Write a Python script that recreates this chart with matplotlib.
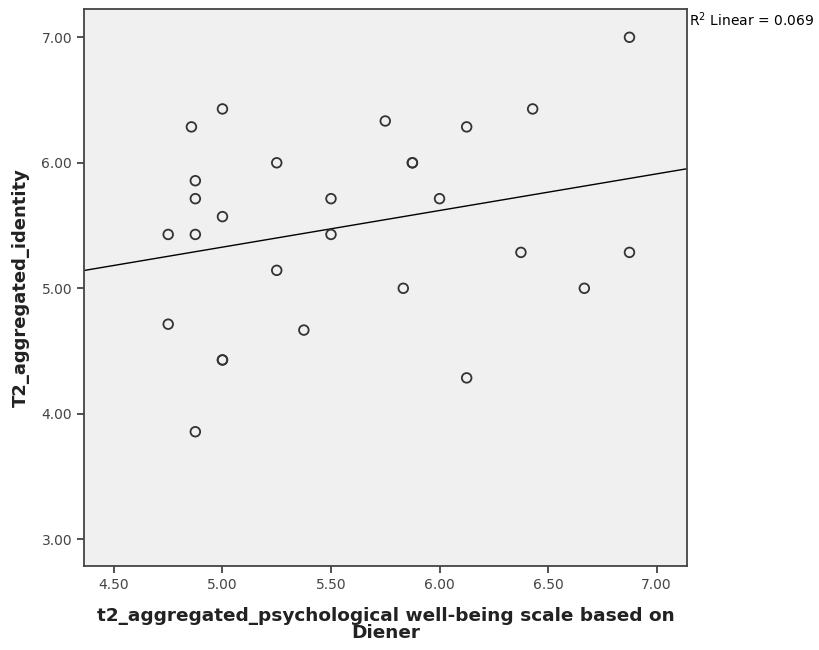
import numpy as np
import matplotlib
matplotlib.use("Agg")
import matplotlib.pyplot as plt

# Well-being (x) vs identity (y)
well_being = [5.00, 4.857, 5.25, 5.75, 5.875, 5.875, 4.875, 4.875, 5.50, 6.00,
              5.00, 4.75, 4.875, 5.50, 5.25, 5.833, 6.875, 6.429, 6.125, 6.375,
              6.875, 6.667, 4.75, 5.375, 5.00, 5.00, 6.125, 4.875]
identity = [6.429, 6.286, 6.00, 6.333, 6.00, 6.00, 5.857, 5.714, 5.714, 5.714,
            5.571, 5.429, 5.429, 5.429, 5.143, 5.00, 7.00, 6.429, 6.286, 5.286,
            5.286, 5.00, 4.714, 4.667, 4.429, 4.429, 4.286, 3.857]

x_ticks = [4.50, 5.00, 5.50, 6.00, 6.50, 7.00]
y_ticks = [3.00, 4.00, 5.00, 6.00, 7.00]
r2_text = "R$^2$ Linear = 0.069"

fig = plt.figure(figsize=(8.2, 6.5), dpi=100)
ax = fig.add_axes([0.1024, 0.1292, 0.7354, 0.8565])
ax.set_facecolor("#f0f0f0")

ax.scatter(well_being, identity, s=48, facecolors="none", edgecolors="#333333",
           linewidths=1.3, zorder=3)

xlim = (4.362, 7.14)
ylim = (2.787, 7.223)

# regression line across the whole plot
slope, intercept = np.polyfit(well_being, identity, 1)
xs = np.array(xlim)
ax.plot(xs, slope * xs + intercept, color="black", lw=1.0, zorder=2)

ax.set_xlim(*xlim)
ax.set_ylim(*ylim)
ax.set_xticks(x_ticks)
ax.set_yticks(y_ticks)
ax.set_xticklabels([f"{v:.2f}" for v in x_ticks])
ax.set_yticklabels([f"{v:.2f}" for v in y_ticks])
ax.tick_params(direction="out", length=5, width=1.2, colors="#333333",
               labelsize=10, labelcolor="#444444")

for s in ax.spines.values():
    s.set_color("#444444")
    s.set_linewidth(1.3)

ax.set_xlabel("t2_aggregated_psychological well-being scale based on\nDiener",
              fontsize=13.3, fontweight="bold", color="#222222",
              linespacing=0.95, labelpad=11)
ax.set_ylabel("T2_aggregated_identity", fontsize=13, fontweight="bold",
              color="#222222", labelpad=8)

fig.text(689 / 820, 1 - 20 / 650, r2_text, fontsize=10, va="center", ha="left")

fig.savefig("out.png", dpi=100)
